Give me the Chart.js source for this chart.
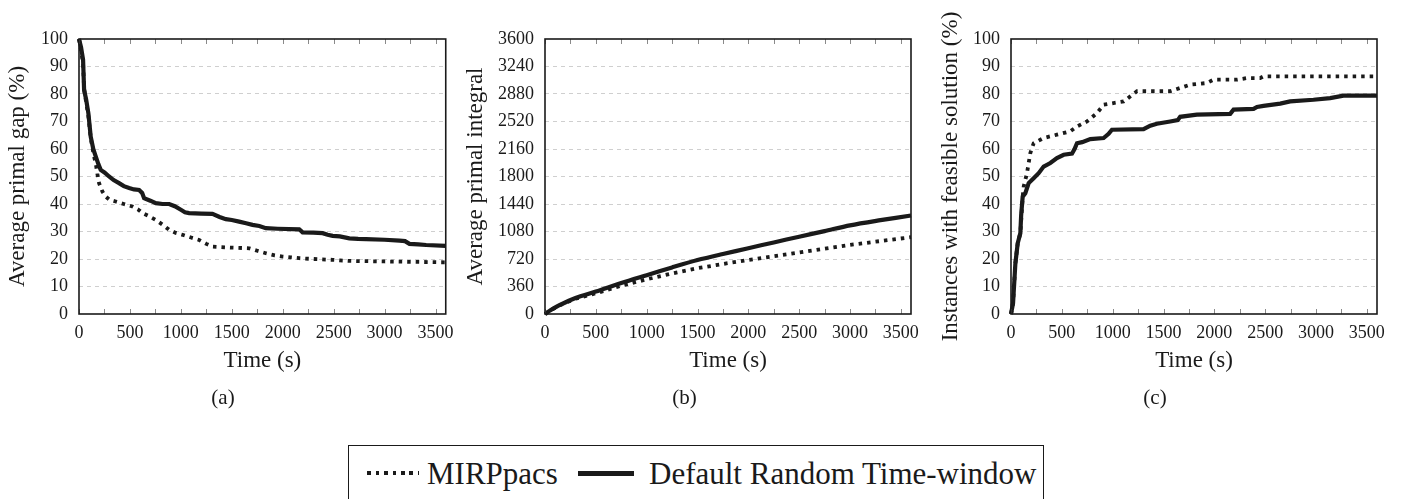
<!DOCTYPE html>
<html>
<head>
<meta charset="utf-8">
<script src="https://cdn.jsdelivr.net/npm/chart.js@4.4.1/dist/chart.umd.min.js"></script>
<style>
  html, body { margin:0; padding:0; background:#fff; }
  body { width:1402px; height:499px; position:relative; overflow:hidden; font-family:"Liberation Serif", serif; color:#1a1a1a; }
  canvas { position:absolute; top:0; }
  #legend { position:absolute; left:348px; top:445px; width:696px; height:80px; border:1.5px solid #1a1a1a; box-sizing:border-box; }
  .lg { position:absolute; font-size:31px; line-height:32px; white-space:nowrap; }
  .dot { position:absolute; height:4px; background:repeating-linear-gradient(90deg,#1a1a1a 0 3.5px,transparent 3.5px 8.5px); }
  .sol { position:absolute; height:5px; background:#1a1a1a; }
</style>
</head>
<body>
<canvas id="ca" width="462" height="420" style="left:0px"></canvas>
<canvas id="cb" width="470" height="420" style="left:458px"></canvas>
<canvas id="cc" width="469" height="420" style="left:933px"></canvas>
<div id="legend">
  <div class="dot" style="left:18px; top:25px; width:52px;"></div>
  <div class="lg" id="lg1" style="left:78px; top:12px;"></div>
  <div class="sol" style="left:229px; top:25px; width:56px;"></div>
  <div class="lg" id="lg2" style="left:300px; top:12px;"></div>
</div>
<script>
// ---------- DATA ----------
const seriesNames = ['MIRPpacs', 'Default Random Time-window'];
const xTicks = [0, 500, 1000, 1500, 2000, 2500, 3000, 3500];
const xMarks = [0, 250, 500, 750, 1000, 1250, 1500, 1750, 2000, 2250, 2500, 2750, 3000, 3250, 3500];
const xMax = 3600;

const gapTicks = [0, 10, 20, 30, 40, 50, 60, 70, 80, 90, 100];
const integralTicks = [0, 360, 720, 1080, 1440, 1800, 2160, 2520, 2880, 3240, 3600];
const feasTicks = [0, 10, 20, 30, 40, 50, 60, 70, 80, 90, 100];

// (a) Average primal gap (%)
const gapTimeMirp = [0, 20, 40, 50, 70, 92, 115, 147, 164, 180, 197, 230, 262, 300, 360, 440, 524, 580, 623, 690, 754, 820, 885, 950, 1016, 1100, 1180, 1250, 1310, 1450, 1600, 1671, 1750, 1834, 1920, 1998, 2080, 2162, 2300, 2490, 2560, 2654, 3000, 3600];
const gapMirp     = [100, 96, 91, 82, 77, 72, 64, 57.3, 54.9, 51, 47.6, 44.5, 42.7, 41.5, 40.9, 40, 39.1, 38, 36.7, 35.5, 34.2, 32.5, 30.6, 29.5, 28.8, 27.8, 26.9, 25.5, 24.5, 24.2, 24, 23.9, 23, 22.1, 21.3, 20.9, 20.6, 20.3, 20, 19.7, 19.5, 19.3, 19.1, 18.8];
const gapTimeDef  = [0, 20, 40, 50, 70, 92, 115, 140, 164, 190, 213, 250, 295, 340, 393, 440, 492, 540, 590, 620, 639, 700, 754, 820, 885, 940, 1000, 1040, 1081, 1200, 1310, 1380, 1441, 1500, 1572, 1640, 1703, 1770, 1834, 1950, 2162, 2195, 2300, 2392, 2440, 2490, 2560, 2654, 2740, 2818, 3000, 3146, 3200, 3244, 3330, 3408, 3600];
const gapDef      = [100, 97, 92.5, 81.5, 78, 73, 64.5, 60, 57.3, 54.5, 52.4, 51.5, 50, 48.7, 47.6, 46.5, 45.8, 45.3, 45.1, 44, 42.1, 41.2, 40.3, 40, 40, 39.2, 37.9, 37, 36.7, 36.5, 36.4, 35.3, 34.5, 34.2, 33.6, 33, 32.4, 32, 31.2, 31, 30.8, 29.7, 29.6, 29.4, 28.8, 28.4, 28.2, 27.5, 27.3, 27.2, 27, 26.7, 26.5, 25.5, 25.3, 25.1, 24.8];

// (b) Average primal integral
const intTime = [0, 50, 147, 300, 500, 750, 1000, 1250, 1500, 1750, 2000, 2250, 2500, 2750, 3000, 3300, 3600];
const intMirp = [0, 45, 115, 200, 271, 370, 454, 530, 599, 655, 708, 756, 804, 854, 904, 955, 1005];
const intDef  = [0, 45, 118, 210, 293, 405, 508, 610, 706, 786, 861, 937, 1012, 1085, 1160, 1228, 1290];

// (c) Instances with feasible solution (%)
const feasTimeMirp = [0, 20, 43, 66, 92, 115, 125, 157, 190, 223, 321, 452, 583, 649, 747, 845, 911, 1108, 1239, 1566, 1763, 1927, 1992, 2222, 2320, 2451, 2484, 3600];
const feasMirp     = [0, 3.9, 18.4, 25.7, 29.4, 42.7, 46.4, 51.2, 58.5, 62.1, 64, 65.2, 66.4, 68.2, 70, 73, 76.1, 77.3, 81, 81, 83.4, 84, 85.2, 85.2, 85.8, 85.8, 86.4, 86.4];
const feasTimeDef  = [0, 20, 43, 66, 92, 100, 115, 141, 174, 223, 272, 321, 387, 452, 518, 600, 625, 649, 700, 780, 911, 960, 993, 1304, 1370, 1435, 1566, 1640, 1664, 1828, 2156, 2189, 2386, 2420, 2484, 2648, 2746, 2975, 3139, 3270, 3600];
const feasDef      = [0, 3.9, 18.4, 25.7, 29.4, 36, 42.7, 43.9, 47.6, 49.4, 51.2, 53.6, 54.9, 56.7, 57.9, 58.3, 60, 62.1, 62.5, 63.6, 64, 65.5, 67, 67.2, 68.5, 69.2, 70, 70.5, 71.7, 72.5, 72.8, 74.3, 74.6, 75.3, 75.7, 76.5, 77.3, 77.9, 78.5, 79.4, 79.4];

// ---------- RENDER ----------
document.getElementById('lg1').textContent = seriesNames[0];
document.getElementById('lg2').textContent = seriesNames[1];

const FONT = '"Liberation Serif", "Times New Roman", serif';
const INK = '#1a1a1a';
Chart.defaults.font.family = FONT;
Chart.defaults.color = INK;

const zip = (xs, ys) => xs.map((x, i) => ({x, y: ys[i]}));

const framePlugin = {
  id: 'frame',
  afterDatasetsDraw(chart) {
    const {ctx, chartArea: a, scales: {x}} = chart;
    ctx.save();
    ctx.strokeStyle = '#8a8a8a';
    ctx.lineWidth = 1;
    ctx.beginPath();
    for (const v of xMarks) {
      const px = Math.round(x.getPixelForValue(v)) + 0.5;
      ctx.moveTo(px, a.bottom); ctx.lineTo(px, a.bottom - 5);
      ctx.moveTo(px, a.top); ctx.lineTo(px, a.top + 5);
    }
    ctx.stroke();
    ctx.strokeStyle = INK;
    ctx.lineWidth = 1.6;
    ctx.strokeRect(a.left, a.top, a.right - a.left, a.bottom - a.top);
    ctx.restore();
  }
};

function makeChart(id, cfg) {
  const yTicks = cfg.yTicks;
  const yMax = yTicks[yTicks.length - 1];
  return new Chart(document.getElementById(id), {
    type: 'line',
    data: {
      datasets: [
        { label: seriesNames[0], data: cfg.mirp, borderColor: INK, borderWidth: 3.8, borderDash: [3.5, 5], borderCapStyle: 'butt', pointRadius: 0, tension: 0, clip: 4 },
        { label: seriesNames[1], data: cfg.def, borderColor: INK, borderWidth: 4.2, pointRadius: 0, tension: cfg.tension || 0, clip: 4 }
      ]
    },
    options: {
      responsive: false,
      animation: false,
      devicePixelRatio: 1,
      layout: { padding: { top: 39, right: cfg.padRight, left: 0, bottom: 0 } },
      plugins: {
        legend: { display: false },
        tooltip: { enabled: false },
        title: { display: true, text: cfg.caption, position: 'bottom', color: INK,
                 font: { family: FONT, size: 21, weight: 'normal' }, padding: { top: 0, bottom: 9.4 } }
      },
      scales: {
        x: {
          type: 'linear', min: 0, max: xMax,
          afterBuildTicks: s => { s.ticks = xTicks.map(v => ({value: v})); },
          afterFit: s => { s.height = 71.4; },
          grid: { display: false, drawTicks: false },
          border: { display: false },
          ticks: { padding: 8, maxRotation: 0, autoSkip: false, color: INK, font: { size: 18 }, callback: v => String(v) },
          title: { display: true, text: 'Time (s)', color: INK, font: { size: 23 }, padding: { top: 0, bottom: 11 } }
        },
        y: {
          type: 'linear', min: 0, max: yMax,
          afterBuildTicks: s => { s.ticks = yTicks.map(v => ({value: v})); },
          afterFit: s => { s.width = cfg.yWidth; },
          grid: { drawTicks: false, lineWidth: 1,
                  color: c => (c.tick && (c.tick.value === 0 || c.tick.value === yMax)) ? 'rgba(0,0,0,0)' : '#cfcfcf' },
          border: { display: false, dash: [4, 4] },
          ticks: { padding: 11, autoSkip: false, color: INK, font: { size: 18 }, callback: v => String(v) },
          title: { display: true, text: cfg.yTitle, color: INK, font: { size: 23 }, padding: { top: 4, bottom: 0 } }
        }
      }
    },
    plugins: [framePlugin]
  });
}

makeChart('ca', { yTicks: gapTicks, mirp: zip(gapTimeMirp, gapMirp), def: zip(gapTimeDef, gapDef),
  caption: '(a)', yTitle: 'Average primal gap (%)', yWidth: 79, padRight: 16 });
makeChart('cb', { yTicks: integralTicks, mirp: zip(intTime, intMirp), def: zip(intTime, intDef), tension: 0.3,
  caption: '(b)', yTitle: 'Average primal integral', yWidth: 87, padRight: 17 });
makeChart('cc', { yTicks: feasTicks, mirp: zip(feasTimeMirp, feasMirp), def: zip(feasTimeDef, feasDef),
  caption: '(c)', yTitle: 'Instances with feasible solution (%)', yWidth: 78, padRight: 25 });
</script>
</body>
</html>
